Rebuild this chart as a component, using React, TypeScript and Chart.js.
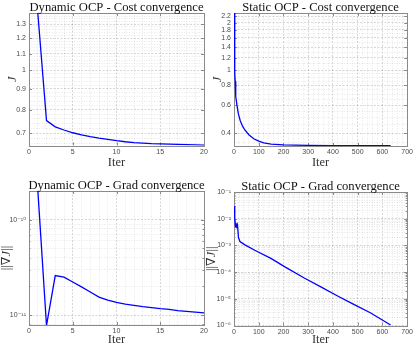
import React, { useEffect, useRef } from 'react';
import { Chart, registerables } from 'chart.js';

Chart.register(...registerables);

// ---------------- data ----------------
const dynIter = [1, 2, 3, 4, 5, 6, 7, 8, 9, 10, 11, 12, 13, 14, 15, 16, 17, 18, 19, 20];
const dynCost = [1.39, 0.752, 0.726, 0.713, 0.702, 0.694, 0.687, 0.681, 0.676, 0.671, 0.667, 0.664, 0.662, 0.660, 0.659, 0.658, 0.657, 0.656, 0.655, 0.654];
const dynGrad = [2.1e-10, 7.8e-12, 2.6e-11, 2.5e-11, 2.23e-11, 1.98e-11, 1.75e-11, 1.55e-11, 1.44e-11, 1.36e-11, 1.31e-11, 1.27e-11, 1.23e-11, 1.2e-11, 1.17e-11, 1.15e-11, 1.12e-11, 1.1e-11, 1.08e-11, 1.06e-11];

const staticCostIter = [1, 2, 3, 4, 5, 6, 8, 12, 17, 25, 35, 44, 60, 80, 100, 120, 150, 200, 300, 400, 500, 633];
const staticCost = [2.5, 1.6, 1.2, 0.95, 0.85, 0.77, 0.68, 0.6, 0.535, 0.48, 0.44, 0.418, 0.39, 0.368, 0.355, 0.346, 0.34, 0.336, 0.334, 0.333, 0.333, 0.333];

const staticGradIter = [1, 2, 4, 6, 8, 10, 14, 18, 24, 44, 84, 151, 204, 284, 351, 417, 484, 551, 633];
const staticGrad = [2.5e-2, 3e-2, 1e-2, 5e-3, 7e-3, 5e-3, 6e-3, 2e-3, 1.4e-3, 1.05e-3, 6.6e-4, 3.2e-4, 1.6e-4, 6e-5, 2.8e-5, 1.3e-5, 6.2e-6, 3e-6, 1.05e-6];

const dynIterTicks = [0, 5, 10, 15, 20];
const staticIterTicks = [0, 100, 200, 300, 400, 500, 600, 700];
const dynCostTicks = [0.7, 0.8, 0.9, 1, 1.1, 1.2, 1.3];
const staticCostTicks = [0.4, 0.6, 0.8, 1, 1.2, 1.4, 1.6, 1.8, 2, 2.2];
const dynGradTicks = [1e-11, 1e-10];
const staticGradTicks = [1e-6, 1e-5, 1e-4, 1e-3, 1e-2, 1e-1];

const titles = [
  'Dynamic OCP - Cost convergence',
  'Static OCP - Cost convergence',
  'Dynamic OCP - Grad convergence',
  'Static OCP - Grad convergence',
];

// ---------------- helpers ----------------
const W = 415;
const H = 344;
const Y_W = 29;
const X_H = 12;

const SUP: Record<string, string> = { '-': '⁻', '0': '⁰', '1': '¹', '2': '²', '3': '³', '4': '⁴', '5': '⁵', '6': '⁶', '7': '⁷', '8': '⁸', '9': '⁹' };
const pow10Label = (v: number) => '10' + String(Math.round(Math.log10(v))).split('').map((c) => SUP[c] || c).join('');

const range = (a: number, b: number, s: number) => {
  const out: number[] = [];
  for (let v = a; v <= b + 1e-9; v += s) out.push(+v.toFixed(6));
  return out;
};
const logMinor = (e0: number, e1: number) => {
  const out: number[] = [];
  for (let e = e0; e <= e1; e++) for (let m = 1; m <= 9; m++) out.push(+(m * Math.pow(10, e)).toPrecision(6));
  return out;
};
const isIn = (v: number, list: number[]) => list.some((m) => Math.abs(v - m) <= Math.abs(m) * 1e-6 + 1e-12);

type Panel = {
  title: string;
  yLabel: 'J' | 'grad';
  xs: number[];
  ys: number[];
  xMax: number;
  xMajor: number[];
  xMinorStep: number;
  yMin: number;
  yMax: number;
  yMajor: number[];
  yMinor: number[];
  yFmt: (v: number) => string;
  area: { l: number; t: number; r: number; b: number };
  xLabelDy: number;
  yLabelDx: number;
};

const panels: Panel[] = [
  {
    title: titles[0], yLabel: 'J', xs: dynIter, ys: dynCost, xMax: 20, xMajor: dynIterTicks, xMinorStep: 1,
    yMin: 0.653, yMax: 1.385, yMajor: dynCostTicks, yMinor: range(0.66, 1.38, 0.02), yFmt: (v) => String(v),
    area: { l: 29, t: 13, r: 204, b: 145.5 }, xLabelDy: 17, yLabelDx: -16.5,
  },
  {
    title: titles[1], yLabel: 'J', xs: staticCostIter, ys: staticCost, xMax: 700, xMajor: staticIterTicks, xMinorStep: 20,
    yMin: 0.331, yMax: 2.3, yMajor: staticCostTicks, yMinor: [...range(0.35, 1, 0.05), ...range(1.1, 2.3, 0.1)], yFmt: (v) => String(v),
    area: { l: 234, t: 13, r: 409, b: 146 }, xLabelDy: 16.5, yLabelDx: -16.5,
  },
  {
    title: titles[2], yLabel: 'grad', xs: dynIter, ys: dynGrad, xMax: 20, xMajor: dynIterTicks, xMinorStep: 1,
    yMin: 7.9e-12, yMax: 2.0e-10, yMajor: dynGradTicks, yMinor: logMinor(-12, -10), yFmt: pow10Label,
    area: { l: 29, t: 191, r: 204, b: 325 }, xLabelDy: 14.5, yLabelDx: -22.5,
  },
  {
    title: titles[3], yLabel: 'grad', xs: staticGradIter, ys: staticGrad, xMax: 700, xMajor: staticIterTicks, xMinorStep: 20,
    yMin: 1e-6, yMax: 1e-1, yMajor: staticGradTicks, yMinor: logMinor(-6, -2), yFmt: pow10Label,
    area: { l: 234, t: 192, r: 409, b: 325.5 }, xLabelDy: 14.5, yLabelDx: -22.5,
  },
];

const TICK_FONT = { family: '"Liberation Sans", "DejaVu Sans", sans-serif', size: 7 };
const TICK_COLOR = '#4a4a4a';
const AXIS_COLOR = '#8a8a8a';

function makeChart(canvas: HTMLCanvasElement, p: Panel) {
  const xTicks = range(0, p.xMax, p.xMinorStep);
  const yTicks = [...p.yMinor.filter((v) => v >= p.yMin && v <= p.yMax && !isIn(v, p.yMajor)), ...p.yMajor].sort((a, b) => a - b);

  const gridColor = (major: number[]) => (ctx: any) => {
    const v = ctx.tick ? ctx.tick.value : NaN;
    return isIn(v, major) ? 'rgba(0,0,0,0.16)' : 'rgba(0,0,0,0.09)';
  };
  const gridDash = (major: number[]) => (ctx: any) => {
    const v = ctx.tick ? ctx.tick.value : NaN;
    return isIn(v, major) ? [2, 1.5] : [1, 1.5];
  };

  const decor = {
    id: 'decor' + p.title,
    beforeDatasetsDraw(chart: any) {
      const { ctx, chartArea: a } = chart;
      ctx.save();
      ctx.strokeStyle = AXIS_COLOR;
      ctx.lineWidth = 1;
      ctx.strokeRect(Math.round(a.left) + 0.5, Math.round(a.top) + 0.5, Math.round(a.right - a.left), Math.round(a.bottom - a.top));
      const xs = chart.scales.x;
      const ys = chart.scales.y;
      ctx.beginPath();
      for (const t of xs.ticks) {
        if (!isIn(t.value, p.xMajor)) continue;
        const x = Math.round(xs.getPixelForValue(t.value)) + 0.5;
        ctx.moveTo(x, a.bottom); ctx.lineTo(x, a.bottom - 3);
        ctx.moveTo(x, a.top); ctx.lineTo(x, a.top + 3);
      }
      for (const t of ys.ticks) {
        const len = isIn(t.value, p.yMajor) ? 3 : (p.yLabel === 'grad' ? 1.5 : 0);
        if (!len) continue;
        const y = Math.round(ys.getPixelForValue(t.value)) + 0.5;
        ctx.moveTo(a.left, y); ctx.lineTo(a.left + len, y);
        ctx.moveTo(a.right, y); ctx.lineTo(a.right - len, y);
      }
      ctx.stroke();
      ctx.restore();
    },
    afterDraw(chart: any) {
      const { ctx, chartArea: a } = chart;
      const cx = (a.left + a.right) / 2;
      const cy = (a.top + a.bottom) / 2;
      ctx.save();
      ctx.fillStyle = '#111';
      ctx.textAlign = 'center';
      ctx.textBaseline = 'alphabetic';
      ctx.font = '12.6px "Liberation Serif", serif';
      ctx.fillText(p.title, cx, a.top - 2.5);
      ctx.textBaseline = 'middle';
      ctx.font = '12.5px "Liberation Serif", serif';
      ctx.fillStyle = '#333';
      ctx.fillText('Iter', cx, a.bottom + p.xLabelDy);
      ctx.translate(a.left + p.yLabelDx, cy);
      ctx.rotate(-Math.PI / 2);
      if (p.yLabel === 'J') {
        ctx.font = 'italic 12.5px "Liberation Serif", serif';
        ctx.fillText('J', 0, 0);
      } else {
        const parts: [string, string][] = [
          ['||∇', '12.5px "Liberation Serif", "DejaVu Serif", serif'],
          ['J', 'italic 12.5px "Liberation Serif", serif'],
          ['||', '12.5px "Liberation Serif", serif'],
        ];
        let total = 0;
        for (const [s, f] of parts) { ctx.font = f; total += ctx.measureText(s).width; }
        let x = -total / 2;
        ctx.textAlign = 'left';
        for (const [s, f] of parts) { ctx.font = f; ctx.fillText(s, x, 0); x += ctx.measureText(s).width; }
      }
      ctx.restore();
    },
  };

  return new Chart(canvas, {
    type: 'line',
    data: {
      datasets: [
        {
          data: p.xs.map((x, i) => ({ x, y: p.ys[i] })),
          borderColor: '#0000ff',
          borderWidth: 1.3,
          pointRadius: 0,
          tension: 0,
          fill: false,
        },
      ],
    },
    options: {
      animation: false,
      responsive: false,
      events: [],
      layout: {
        padding: {
          left: p.area.l - Y_W,
          top: p.area.t,
          right: W - p.area.r,
          bottom: H - p.area.b - X_H,
        },
      },
      plugins: { legend: { display: false }, tooltip: { enabled: false }, title: { display: false } },
      scales: {
        x: {
          type: 'linear',
          min: 0,
          max: p.xMax,
          bounds: 'data',
          afterBuildTicks: (s: any) => { s.ticks = xTicks.map((v) => ({ value: v })); },
          afterFit: (s: any) => { s.height = X_H; },
          ticks: {
            autoSkip: false,
            maxRotation: 0,
            padding: 2,
            font: TICK_FONT,
            color: TICK_COLOR,
            callback: (v: any) => (isIn(Number(v), p.xMajor) ? String(v) : ''),
          },
          grid: { color: gridColor(p.xMajor), drawTicks: false, lineWidth: 1 },
          border: { display: false, dash: gridDash(p.xMajor) },
        },
        y: {
          type: 'logarithmic',
          min: p.yMin,
          max: p.yMax,
          bounds: 'data',
          afterBuildTicks: (s: any) => { s.ticks = yTicks.map((v) => ({ value: v })); },
          afterFit: (s: any) => { s.width = Y_W; },
          ticks: {
            autoSkip: false,
            padding: 3,
            font: TICK_FONT,
            color: TICK_COLOR,
            callback: (v: any) => (isIn(Number(v), p.yMajor) ? p.yFmt(Number(v)) : ''),
          },
          grid: { color: gridColor(p.yMajor), drawTicks: false, lineWidth: 1 },
          border: { display: false, dash: gridDash(p.yMajor) },
        },
      },
    },
    plugins: [decor],
  } as any);
}

function Panel({ p }: { p: Panel }) {
  const ref = useRef<HTMLCanvasElement | null>(null);
  useEffect(() => {
    if (!ref.current) return;
    const chart = makeChart(ref.current, p);
    return () => chart.destroy();
  }, [p]);
  return (
    <canvas
      ref={ref}
      width={W}
      height={H}
      style={{ position: 'absolute', left: 0, top: 0, width: W, height: H }}
    />
  );
}

export default function App() {
  return (
    <div style={{ position: 'fixed', left: 0, top: 0, width: W, height: H, background: '#fff', overflow: 'hidden' }}>
      {panels.map((p, i) => (
        <Panel key={i} p={p} />
      ))}
    </div>
  );
}
